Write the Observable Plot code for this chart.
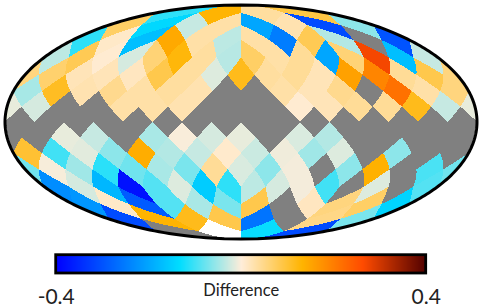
<!DOCTYPE html>
<html>
<head>
<meta charset="utf-8">
<script src="https://cdn.jsdelivr.net/npm/d3@7"></script>
<script src="https://cdn.jsdelivr.net/npm/@observablehq/plot@0.6"></script>
<style>
html,body{margin:0;padding:0;background:#fff;}
svg{display:block;}
</style>
</head>
<body>
<div id="chart"></div>
<script>
// HEALPix (nside 4) values per iso-latitude ring, screen left to right.
// null = unobserved (grey), BAD = blank (white).
const BAD = "bad";
const ring1  = [-.11, .13, .035, .09];
const ring2  = [.07, -.14, -.03, .03, -.2, .025, -.31, -.06];
const ring3  = [-.11, .01, -.17, .145, .03, -.035, .03, -.25, .08, -.04, null, -.3];
const ring4  = [-.035, .08, .005, -.022, .06, .125, .035, -.038, .07, .03, .04, -.2, .06, .27, -.17, -.03];
const ring5  = [.065, .02, .02, .015, .085, .035, -.018, .115, .035, .04, .02, .155, .19, .04, .085, .055];
const ring6  = [-.046, .11, .025, .045, .03, .035, .025, null, null, .03, .02, .045, null, .215, .03, .055];
const ring7  = [-.022, null, null, .03, .03, .025, null, null, null, .005, .02, .04, .04, .115, -.03, -.012];
const ring8  = [null, null, null, null, null, null, null, null, null, null, null, null, null, null, null, null];
const ring9  = [null, -.012, -.03, null, -.045, -.003, -.022, -.012, null, -.02, -.04, null, null, null, null, null];
const ring10 = [.1, -.1, -.015, -.06, .14, -.04, -.03, .008, -.028, -.008, -.05, -.018, null, -.06, null, null];
const ring11 = [-.004, -.05, -.112, -.075, -.045, -.07, .04, -.02, -.06, -.006, null, -.06, .135, null, -.095, -.075];
const ring12 = [-.23, -.022, -.18, -.38, -.09, -.018, -.155, -.11, -.035, -.022, -.006, -.1, null, -.018, null, -.09];
const ring13 = [-.22, .01, -.29, -.09, -.045, -.07, .085, null, .015, .055, .07, -.145];
const ring14 = [-.31, .13, .115, .085, -.26, null, .05, -.07];
const ring15 = [null, BAD, -.13, -.31];
const rings = [ring1, ring2, ring3, ring4, ring5, ring6, ring7, ring8, ring9, ring10, ring11, ring12, ring13, ring14, ring15];

const colorDomain = [-.4, -.134, 0, .131, .262, .4];
const colorRange = ["#0000ff", "#00ddff", "#ffedd9", "#ffb400", "#ff4b00", "#500000"];
const colorScale = {type: "linear", domain: colorDomain, range: colorRange, interpolate: "rgb"};
const tickLabels = ["-0.4", "0.4"];
const barLabel = "Difference";
const FONT = "Lato, 'Open Sans', sans-serif";

const PI = Math.PI, Q = PI / 16;

// HEALPix plane -> lon/lat
function toLonLat(xs, ys, fc) {
  const a = Math.abs(ys);
  let phi = xs, z;
  if (a <= PI / 4) {
    z = 8 * ys / (3 * PI);
  } else {
    const sigma = 2 - 4 * a / PI;
    z = Math.sign(ys) * (1 - sigma * sigma / 3);
    if (a >= PI / 2 - 1e-9) phi = fc;
    else phi = xs - (a - PI / 4) / (a - PI / 2) * (xs - fc);
  }
  return [phi * 180 / PI, Math.asin(z) * 180 / PI];
}

function edge(p, q, fc, out) {
  const n = 14;
  for (let t = 0; t < n; t++) {
    out.push(toLonLat(p[0] + (q[0] - p[0]) * t / n, p[1] + (q[1] - p[1]) * t / n, fc));
  }
}

function cellCenters(i) {
  const r = Math.min(i, 16 - i);
  const out = [];
  if (r < 4) {
    for (const fc of [-3, -1, 1, 3].map(k => k * PI / 4))
      for (let p = 0; p < r; p++) out.push(fc + (p - (r - 1) / 2) * PI / 8);
  } else {
    const s = (i - 3) % 2;
    for (let j = 1; j <= 16; j++) out.push(-PI + (j - s / 2) * PI / 8);
  }
  return out;
}

const features = [];
rings.forEach((vals, idx) => {
  const i = idx + 1;
  const yc = PI / 2 - i * Q;
  cellCenters(i).forEach((xc, j) => {
    const value = vals[j];
    const fc = (Math.floor(xc / (PI / 2) + 1e-9) + .5) * PI / 2;
    const N = [xc, yc + Q], E = [xc + Q, yc], S = [xc, yc - Q], W = [xc - Q, yc];
    const parts = [];
    if (Math.abs(xc - PI) < 1e-9) {
      const R = [], L = [];
      edge(N, S, fc, R); edge(S, W, fc, R); edge(W, N, fc, R);
      parts.push(R);
      const Nl = [-PI, yc + Q], Sl = [-PI, yc - Q], El = [-PI + Q, yc];
      edge(Nl, El, fc, L); edge(El, Sl, fc, L); edge(Sl, Nl, fc, L);
      parts.push(L);
    } else {
      const P = [];
      edge(N, E, fc, P); edge(E, S, fc, P); edge(S, W, fc, P); edge(W, N, fc, P);
      parts.push(P);
    }
    for (const P of parts) {
      features.push({type: "Feature", properties: {value},
        geometry: {type: "Polygon", coordinates: [[...P, P[0]]]}});
    }
  });
});

// Mollweide as a planar transform (no spherical clipping needed)
const cx = 240.5, cy = 121.5, ax = 236, ay = 117;
function theta(latDeg) {
  const target = PI * Math.sin(latDeg * PI / 180);
  let lo = -PI, hi = PI;
  for (let k = 0; k < 50; k++) {
    const m = (lo + hi) / 2;
    if (m + Math.sin(m) < target) lo = m; else hi = m;
  }
  return (lo + hi) / 4;
}
const mollweide = d3.geoTransform({
  point(lon, lat) {
    const t = theta(lat);
    this.stream.point(cx + ax * (lon / 180) * Math.cos(t), cy - ay * Math.sin(t));
  }
});

const lats = d3.range(-90, 90.01, 1);
const outline = {type: "Polygon", coordinates: [[
  ...lats.map(l => [180, l]),
  ...lats.slice().reverse().map(l => [-180, l]),
  [180, -90]
]]};

const isNum = d => typeof d.properties.value === "number";
const crisp = {shapeRendering: "crispEdges"};
const map = Plot.plot({
  width: 481, height: 244, margin: 0,
  projection: mollweide,
  color: colorScale,
  marks: [
    Plot.geo(features.filter(d => d.properties.value === null), {fill: "#808080", ...crisp}),
    Plot.geo(features.filter(isNum), {fill: d => d.properties.value, ...crisp}),
    Plot.geo(features.filter(d => d.properties.value === BAD), {fill: "#ffffff", ...crisp}),
    Plot.geo([outline], {fill: "none", stroke: "#000", strokeWidth: 3})
  ]
});

const nSteps = 370;
const steps = d3.range(0, nSteps).map(k => -.4 + k * .8 / nSteps);
const bar = Plot.plot({
  width: 481, height: 63, margin: 0,
  x: {domain: [-.4, .4], range: [55.7, 425.7], axis: null},
  y: {domain: [0, 1], range: [29, 10.7], axis: null},
  color: colorScale,
  marks: [
    Plot.rect(steps, {x1: d => d, x2: d => d + .8 / (nSteps - 1), y1: 0, y2: 1, fill: d => d, ...crisp}),
    Plot.rect([0], {x1: -.4, x2: .4, y1: 0, y2: 1, fill: "none", stroke: "#000", strokeWidth: 2.8}),
    Plot.text([barLabel], {x: 0, y: 0, dy: 22, lineAnchor: "bottom", text: d => d, fontSize: 16.5, fontFamily: FONT, fill: "#222", textAnchor: "middle"}),
    Plot.text(tickLabels, {x: [-.4, .4], y: 0, dy: 30, lineAnchor: "bottom", text: d => d, fontSize: 21, fontFamily: FONT, fill: "#222", textAnchor: "middle"})
  ]
});
document.getElementById("chart").append(map, bar);
</script>
</body>
</html>
